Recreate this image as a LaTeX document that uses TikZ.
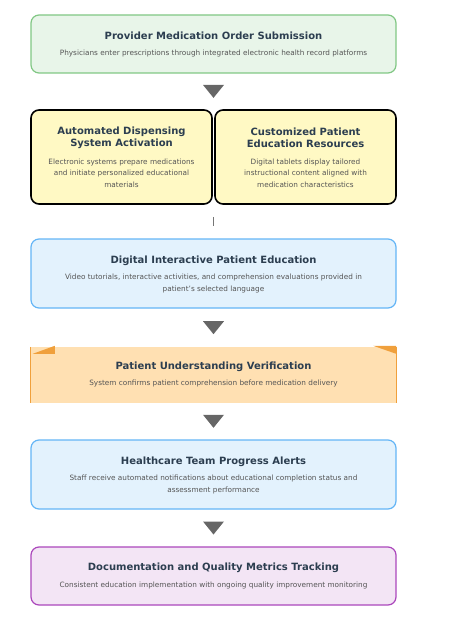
\documentclass[tikz,border=0pt]{standalone}
\usepackage{fontspec}
\setmainfont{DejaVu Sans}
\usetikzlibrary{calc}

\definecolor{ttlcol}{HTML}{2C3E50}
\definecolor{desccol}{HTML}{555555}
\definecolor{greenline}{HTML}{81C784}
\definecolor{greenfill}{HTML}{E8F5E9}
\definecolor{yellowfill}{HTML}{FFF9C4}
\definecolor{blueline}{HTML}{64B5F6}
\definecolor{bluefill}{HTML}{E3F2FD}
\definecolor{orangeline}{HTML}{F0A03C}
\definecolor{orangefill}{HTML}{FFE0B2}
\definecolor{purpleline}{HTML}{AB47BC}
\definecolor{purplefill}{HTML}{F3E5F5}
\definecolor{trigray}{HTML}{666666}

\begin{document}
\begin{tikzpicture}[x=1pt, y=-1pt, line join=round,
    box/.style={rounded corners=8pt, line width=1.2pt, inner sep=0pt},
    ttl/.style={font=\bfseries\fontsize{10}{12}\selectfont, text=ttlcol, align=center},
    desc/.style={font=\fontsize{7.3}{11.5}\selectfont, text=desccol, align=center},
    tri/.style={fill=trigray},
    stub/.style={draw=trigray!90, line width=1.6pt}]
  \useasboundingbox (0,0) rectangle (450,631);
  % order entry
  \node[box, draw=greenline, fill=greenfill, minimum width=365pt, minimum height=58pt] (order) at (213.5,44) {};
  \node[ttl] (order-t) at (213.5,35.5) {Provider Medication Order Submission};
  \node[desc] (order-d) at (213.5,53) {Physicians enter prescriptions through integrated electronic health record platforms};
  % the two parallel steps
  \node[box, draw=black, line width=1.6pt, fill=yellowfill, minimum width=181pt, minimum height=94pt] (disp) at (121.5,157) {};
  \node[box, draw=black, line width=1.6pt, fill=yellowfill, minimum width=181pt, minimum height=94pt] (res) at (305.5,157) {};
  \node[ttl] (disp-t) at (121.5,137.5) {Automated Dispensing\\System Activation};
  \node[desc] (disp-d) at (121.5,173) {Electronic systems prepare medications\\and initiate personalized educational\\materials};
  \node[ttl] (res-t) at (305.5,137.5) {Customized Patient\\Education Resources};
  \node[desc] (res-d) at (305.5,173) {Digital tablets display tailored\\instructional content aligned with\\medication characteristics};
  % education
  \node[box, draw=blueline, fill=bluefill, minimum width=365pt, minimum height=69pt] (educ) at (213.5,273.5) {};
  \node[ttl] (educ-t) at (213.5,260.5) {Digital Interactive Patient Education};
  \node[desc] (educ-d) at (213.5,283.25) {Video tutorials, interactive activities, and comprehension evaluations provided in\\patient's selected language};
  % verification, open top and bottom
  \node[fill=orangefill, minimum width=365pt, minimum height=56pt, inner sep=0pt] (verify) at (213.5,375) {};
  \draw[orangeline, line width=1.2pt] (verify.north west) -- (verify.south west);
  \draw[orangeline, line width=1.2pt] (verify.north east) -- (verify.south east);
  \fill[orangeline] (verify.north west) ++(2,7) -- ++(22,0) -- ++(0,-8) -- cycle;
  \fill[orangeline] (verify.north east) ++(0,-1) -- ++(-23,0) -- ++(23,8) -- cycle;
  \node[ttl] (verify-t) at (213.5,366.5) {Patient Understanding Verification};
  \node[desc] (verify-d) at (213.5,383.5) {System confirms patient comprehension before medication delivery};
  % alerts
  \node[box, draw=blueline, fill=bluefill, minimum width=365pt, minimum height=69pt] (alert) at (213.5,474.5) {};
  \node[ttl] (alert-t) at (213.5,461.5) {Healthcare Team Progress Alerts};
  \node[desc] (alert-d) at (213.5,484.25) {Staff receive automated notifications about educational completion status and\\assessment performance};
  % tracking
  \node[box, draw=purpleline, fill=purplefill, minimum width=365pt, minimum height=58pt] (track) at (213.5,576) {};
  \node[ttl] (track-t) at (213.5,567.5) {Documentation and Quality Metrics Tracking};
  \node[desc] (track-d) at (213.5,585.5) {Consistent education implementation with ongoing quality improvement monitoring};
  % connectors
  \fill[tri] ($(order.south)!0.5!(order.south |- disp.north)$) ++(-10.5,-6.5) -- ++(21,0) -- ++(-10.5,13) -- cycle;
  \draw[stub] ($(educ.north |- disp.south)+(0,12)$) -- ($(educ.north)+(0,-12)$);
  \fill[tri] ($(educ.south)!0.5!(verify.north)$) ++(-10.5,-6.5) -- ++(21,0) -- ++(-10.5,13) -- cycle;
  \fill[tri] ($(verify.south)!0.5!(alert.north)$) ++(-10.5,-6.5) -- ++(21,0) -- ++(-10.5,13) -- cycle;
  \fill[tri] ($(alert.south)!0.5!(track.north)$) ++(-10.5,-6.5) -- ++(21,0) -- ++(-10.5,13) -- cycle;
\end{tikzpicture}
\end{document}
